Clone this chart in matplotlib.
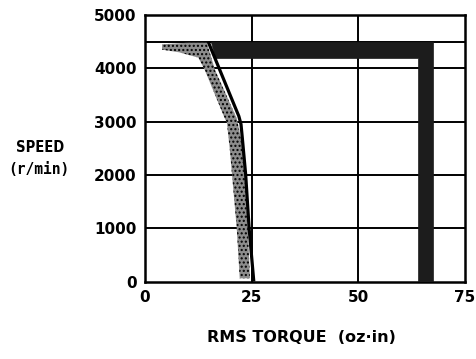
import matplotlib
matplotlib.use("Agg")
import matplotlib.pyplot as plt
from matplotlib.patches import Polygon

# Data
x_ticks = [0, 25, 50, 75]
y_ticks = [0, 1000, 2000, 3000, 4000, 5000]
speed_limit = 4500

# Peak torque curve (solid black line)
curve_torque = [14.8, 22.0, 22.5, 22.8, 23.6, 24.4, 25.5]
curve_speed = [4500, 3100, 2950, 2700, 2000, 1000, 0]

# Stippled region (boundary)
stip_torque = [4.0, 10.0, 14.5, 16.4, 21.5, 23.0, 23.4, 24.1, 24.6, 22.2, 21.5, 20.4, 19.9, 19.2, 18.7, 14.0, 12.5, 8.0, 4.0]
stip_speed = [4450, 4480, 4480, 3970, 3060, 2500, 2000, 1000, 60, 60, 1000, 2000, 2460, 2980, 3060, 3970, 4200, 4300, 4350]

# Continuous duty band (dark outline band)
band_torque = [15.5, 67.5, 67.5, 64.0, 64.0, 16.5]
band_speed = [4500, 4500, 0, 0, 4200, 4200]

fig = plt.figure(figsize=(4.77, 3.59), dpi=100)
ax = fig.add_axes([145/477, 1-281.5/359, 320/477, 266.5/359])

ax.set_xlim(0, 75)
ax.set_ylim(0, 5000)

for xv in x_ticks[1:-1]:
    ax.axvline(xv, color='black', lw=1.4, zorder=1)
for yv in y_ticks[1:-1]:
    ax.axhline(yv, color='black', lw=1.4, zorder=1)
ax.axhline(speed_limit, color='black', lw=1.4, zorder=1)

stip = Polygon(list(zip(stip_torque, stip_speed)), closed=True,
               facecolor='#8c8c8c', edgecolor='#000000', hatch='....', lw=0, zorder=2)
ax.add_patch(stip)

band = Polygon(list(zip(band_torque, band_speed)), closed=True,
               facecolor='#1c1c1c', edgecolor='#1c1c1c', lw=0.5, zorder=3)
ax.add_patch(band)

ax.plot(curve_torque, curve_speed, color='black', lw=2.3, zorder=4,
        solid_capstyle='butt', solid_joinstyle='round')

ax.set_xticks(x_ticks)
ax.set_yticks(y_ticks)
ax.tick_params(length=0, pad=6, labelsize=11)
for lab in ax.get_xticklabels() + ax.get_yticklabels():
    lab.set_fontweight('bold')
for s in ax.spines.values():
    s.set_linewidth(1.8)

fig.text(40/477, 1-148/359, 'SPEED', ha='center', va='center', fontsize=10.5, fontweight='bold',
         family='DejaVu Sans', fontstretch='condensed')
fig.text(39/477, 1-170/359, '(r/min)', ha='center', va='center', fontsize=10.5, fontweight='bold',
         family='DejaVu Sans Mono')
fig.text(301/477, 1-338/359, 'RMS TORQUE  (oz·in)', ha='center', va='center', fontsize=11.5,
         fontweight='bold')

fig.savefig('out.png', dpi=100)
